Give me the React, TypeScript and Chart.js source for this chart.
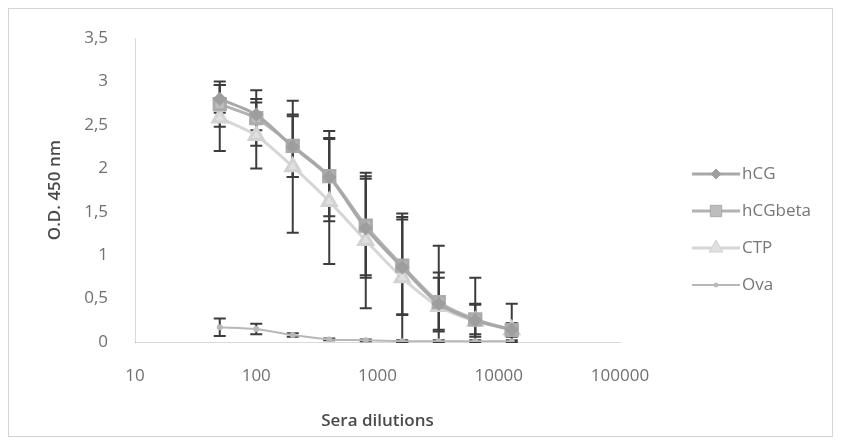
import React, { useEffect, useRef } from "react";
import { Chart, registerables } from "chart.js";
import { drawPoint } from "chart.js/helpers";

Chart.register(...registerables);

const dilutions = [50, 100, 200, 400, 800, 1600, 3200, 6400, 12800];
const xTicks = [10, 100, 1000, 10000, 100000];
const yTicks = [0, 0.5, 1, 1.5, 2, 2.5, 3, 3.5];

const hCG = [2.8, 2.62, 2.25, 1.9, 1.31, 0.86, 0.44, 0.25, 0.14];
const hCGbeta = [2.74, 2.58, 2.26, 1.91, 1.34, 0.88, 0.46, 0.26, 0.14];
const CTP = [2.58, 2.38, 2.02, 1.62, 1.17, 0.74, 0.41, 0.24, 0.14];
const Ova = [0.17, 0.15, 0.08, 0.03, 0.02, 0.01, 0.01, 0.01, 0.01];

const hCGErr = [0.16, 0.18, 0.35, 0.45, 0.57, 0.55, 0.3, 0.19, 0.06];
const hCGbetaErr = [0.26, 0.32, 0.36, 0.52, 0.57, 0.56, 0.34, 0.17, 0.08];
const CTPErr = [0.38, 0.38, 0.76, 0.72, 0.78, 0.74, 0.7, 0.5, 0.3];
const OvaErr = [0.1, 0.06, 0.02, 0.01, 0.01, 0.01, 0.01, 0.01, 0.01];

const seriesNames = ["hCG", "hCGbeta", "CTP", "Ova"];

const FONT = "'Open Sans', 'Noto Sans', sans-serif";

const errorBarPlugin = {
  id: "errorBars",
  beforeDatasetsDraw(chart: any) {
    const { ctx, chartArea, scales } = chart;
    const xs = scales.x;
    const ys = scales.y;
    ctx.save();
    ctx.beginPath();
    ctx.rect(chartArea.left, chartArea.top, chartArea.right - chartArea.left, chartArea.bottom - chartArea.top + 1);
    ctx.clip();
    ctx.strokeStyle = "#3c3c3c";
    ctx.lineWidth = 2;
    chart.data.datasets.forEach((ds: any) => {
      const errs: number[] = ds.errors || [];
      ds.data.forEach((pt: any, i: number) => {
        const e = errs[i];
        if (e == null) return;
        const px = xs.getPixelForValue(pt.x);
        const pTop = ys.getPixelForValue(pt.y + e);
        const pBot = ys.getPixelForValue(pt.y - e);
        ctx.beginPath();
        ctx.moveTo(px, pTop);
        ctx.lineTo(px, pBot);
        ctx.moveTo(px - 6, pTop);
        ctx.lineTo(px + 6, pTop);
        ctx.moveTo(px - 6, pBot);
        ctx.lineTo(px + 6, pBot);
        ctx.stroke();
      });
    });
    ctx.restore();
  },
};

const legendPlugin = {
  id: "excelLegend",
  afterDraw(chart: any) {
    const { ctx, chartArea, height } = chart;
    const gap = 37;
    const n = chart.data.datasets.length;
    const x0 = chartArea.right + 72;
    const y0 = height / 2 - ((n - 1) * gap) / 2 + 7;
    ctx.save();
    chart.data.datasets.forEach((ds: any, i: number) => {
      const y = y0 + i * gap;
      ctx.strokeStyle = ds.borderColor;
      ctx.lineWidth = ds.borderWidth;
      ctx.beginPath();
      ctx.moveTo(x0, y);
      ctx.lineTo(x0 + 48, y);
      ctx.stroke();
      if (ds.pointRadius > 0) {
        ctx.fillStyle = ds.pointBackgroundColor;
        ctx.strokeStyle = ds.pointBorderColor;
        ctx.lineWidth = 1;
        drawPoint(ctx, { pointStyle: ds.pointStyle, radius: ds.pointRadius, borderWidth: 1, rotation: 0 } as any, x0 + 24, y);
      }
      ctx.fillStyle = "#777777";
      ctx.font = `17px ${FONT}`;
      ctx.textBaseline = "middle";
      ctx.textAlign = "left";
      ctx.fillText(ds.label, x0 + 50, y);
    });
    ctx.restore();
  },
};

const toPts = (vals: number[]) => vals.map((v, i) => ({ x: dilutions[i], y: v }));

export default function App() {
  const ref = useRef<HTMLCanvasElement>(null);
  useEffect(() => {
    if (!ref.current) return;
    const chart = new Chart(ref.current, {
      type: "line",
      data: {
        datasets: [
          {
            label: seriesNames[0],
            data: toPts(hCG),
            errors: hCGErr,
            borderColor: "#a8a8a8",
            borderWidth: 3,
            pointStyle: "rectRot",
            pointRadius: 5,
            pointBackgroundColor: "#9e9e9e",
            pointBorderColor: "#9e9e9e",
            tension: 0.25,
          },
          {
            label: seriesNames[1],
            data: toPts(hCGbeta),
            errors: hCGbetaErr,
            borderColor: "#b2b2b2",
            borderWidth: 3,
            pointStyle: "rect",
            pointRadius: 8,
            pointBackgroundColor: "#bdbdbd",
            pointBorderColor: "#ababab",
            tension: 0.25,
          },
          {
            label: seriesNames[2],
            data: toPts(CTP),
            errors: CTPErr,
            borderColor: "#d6d6d6",
            borderWidth: 3,
            pointStyle: "triangle",
            pointRadius: 8,
            pointBackgroundColor: "#e0e0e0",
            pointBorderColor: "#d2d2d2",
            tension: 0.25,
          },
          {
            label: seriesNames[3],
            data: toPts(Ova),
            errors: OvaErr,
            borderColor: "#b8b8b8",
            borderWidth: 2,
            pointStyle: "circle",
            pointRadius: 2,
            pointBackgroundColor: "#b8b8b8",
            pointBorderColor: "#b8b8b8",
            tension: 0.25,
          },
        ] as any,
      },
      options: {
        animation: false,
        responsive: false,
        layout: { padding: { left: 0, right: 212, top: 13, bottom: 0 } },
        plugins: { legend: { display: false }, tooltip: { enabled: false } },
        scales: {
          x: {
            type: "logarithmic",
            min: 10,
            max: 100000,
            afterBuildTicks: (s: any) => {
              s.ticks = xTicks.map((v) => ({ value: v }));
            },
            afterFit: (s: any) => {
              s.height = 94;
            },
            grid: { display: false },
            border: { display: true, color: "rgba(0,0,0,0.15)", dash: [2, 2] },
            ticks: {
              autoSkip: false,
              maxRotation: 0,
              padding: 16,
              color: "#707070",
              font: { family: FONT, size: 17 },
              callback: (v: any) => String(v),
            },
            title: {
              display: true,
              text: "Sera dilutions",
              color: "#4a4a4a",
              font: { family: FONT, size: 17, weight: "600" },
              padding: { top: 0, bottom: 5 },
            },
          },
          y: {
            min: 0,
            max: 3.5,
            afterBuildTicks: (s: any) => {
              s.ticks = yTicks.map((v) => ({ value: v }));
            },
            afterFit: (s: any) => {
              s.width = 126;
            },
            grid: { display: false },
            border: { display: true, color: "rgba(0,0,0,0.15)", dash: [2, 2] },
            ticks: {
              padding: 19,
              color: "#707070",
              font: { family: FONT, size: 17 },
              callback: (v: any) => String(v).replace(".", ","),
            },
            title: {
              display: true,
              text: "O.D. 450 nm",
              color: "#4a4a4a",
              font: { family: FONT, size: 17, weight: "600" },
              padding: { top: 36, bottom: 0 },
            },
          },
        },
      },
      plugins: [errorBarPlugin, legendPlugin],
    } as any);
    return () => chart.destroy();
  }, []);
  return (
    <div style={{ width: 823, height: 427, border: "1px solid #d4d4d4", background: "#fff" }}>
      <canvas ref={ref} width={823} height={427} style={{ display: "block" }} />
    </div>
  );
}
